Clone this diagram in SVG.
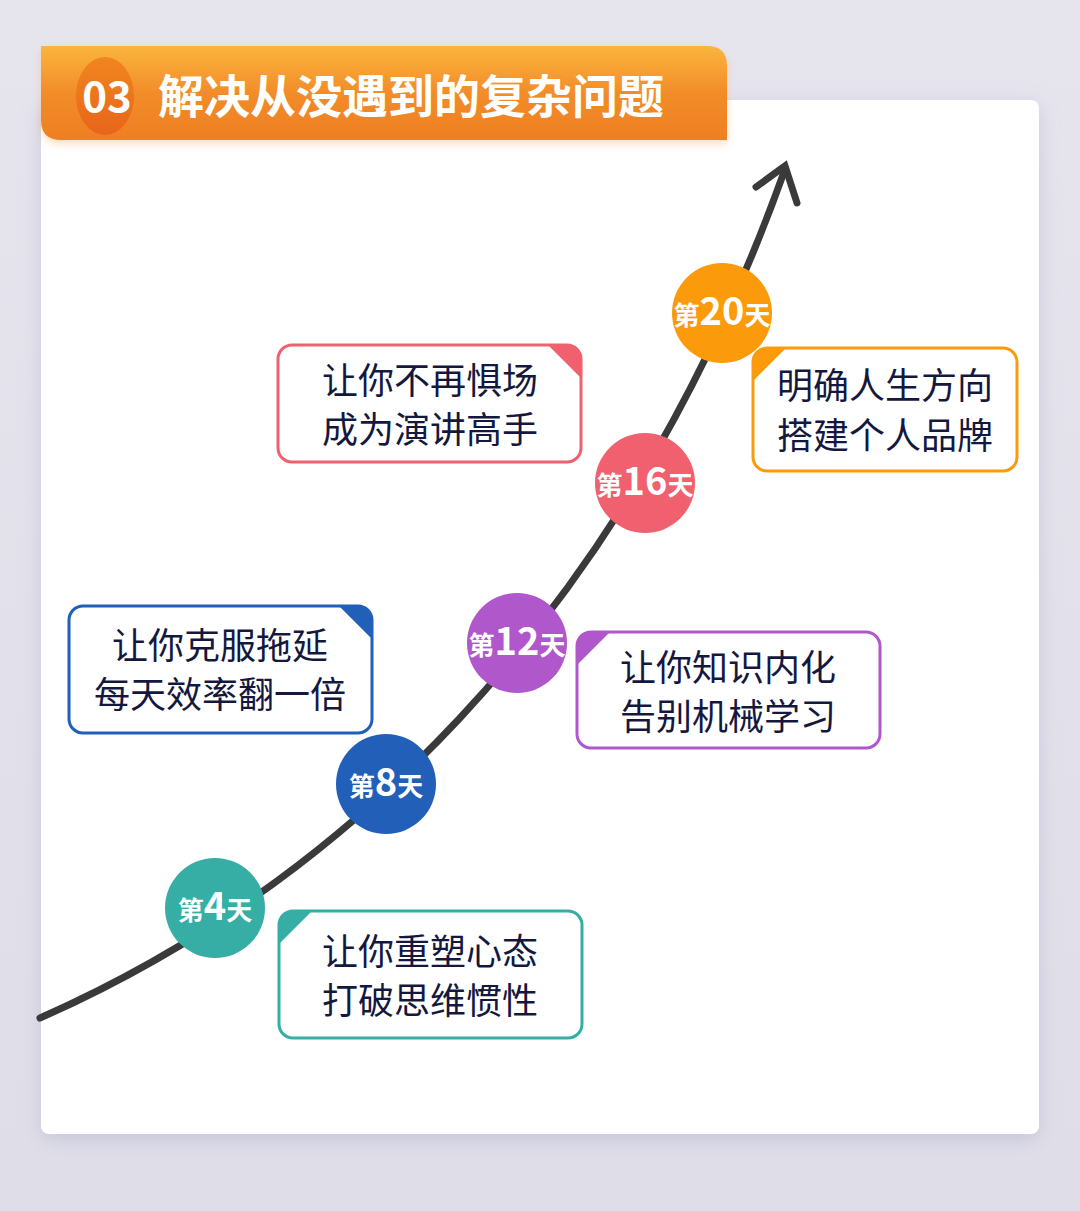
<svg xmlns="http://www.w3.org/2000/svg" width="1080" height="1211" viewBox="0 0 1080 1211">
<defs>
<linearGradient id="bg" x1="0" y1="0" x2="0" y2="1"><stop offset="0" stop-color="#e6e5ee"/><stop offset="1" stop-color="#dfdee8"/></linearGradient>
<linearGradient id="ban" x1="0" y1="0" x2="0" y2="1"><stop offset="0" stop-color="#fbb53d"/><stop offset="0.5" stop-color="#f28c29"/><stop offset="1" stop-color="#ee7f22"/></linearGradient>
<linearGradient id="num" x1="0" y1="0" x2="0" y2="1"><stop offset="0" stop-color="#f0861f"/><stop offset="1" stop-color="#e8651a"/></linearGradient>
<filter id="sh" x="-10%" y="-10%" width="120%" height="120%"><feDropShadow dx="0" dy="6" stdDeviation="10" flood-color="#9a98b8" flood-opacity="0.35"/></filter>
<filter id="sh2" x="-10%" y="-30%" width="120%" height="160%"><feDropShadow dx="0" dy="4" stdDeviation="4" flood-color="#f3a050" flood-opacity="0.35"/></filter>
</defs>
<style>
.t{font-family:"Noto Sans CJK SC","Noto Sans",sans-serif;font-size:36px;fill:#14183e}
.d{font-family:"Noto Sans CJK SC","Noto Sans",sans-serif;fill:#fff;font-weight:700}
.box{fill:#fff;stroke-width:3}
</style>
<rect width="1080" height="1211" fill="url(#bg)"/>
<rect x="41" y="100" width="998" height="1034" rx="8" fill="#fff" filter="url(#sh)"/>
<g id="banner">
<path d="M41,46 H707 Q727,46 727,66 V140 H61 Q41,140 41,120 Z" fill="url(#ban)" filter="url(#sh2)"/>
<ellipse cx="105" cy="96" rx="29" ry="39" fill="url(#num)"/>
<text x="107" y="112" text-anchor="middle" class="d" font-size="42" font-family="Roboto,sans-serif">03</text>
<text x="158" y="113" class="d" font-size="46">解决从没遇到的复杂问题</text>
</g>
<g id="connectors" fill="none" stroke="#3a3a3a" stroke-width="7" stroke-linecap="round">
<path d="M40,1018 C330,890 620,630 784,172"/>
<polyline points="756,187 785,166 797,203" stroke-linejoin="miter"/>
</g>
<g id="n4">
<circle cx="215" cy="908" r="50" fill="#36aea6"/>
<text x="215" y="920" text-anchor="middle" class="d" font-size="26">第<tspan font-size="38">4</tspan>天</text>
</g>
<g id="b4">
<rect x="279" y="911" width="303" height="127" rx="14" class="box" stroke="#36aea6"/>
<path d="M279,944 V925 Q279,911 293,911 H312 Z" fill="#36aea6"/>
<text x="430" y="965" text-anchor="middle" class="t">让你重塑心态</text>
<text x="430" y="1014" text-anchor="middle" class="t">打破思维惯性</text>
</g>
<g id="n8">
<circle cx="386" cy="784" r="50" fill="#215fb8"/>
<text x="386" y="796" text-anchor="middle" class="d" font-size="26">第<tspan font-size="38">8</tspan>天</text>
</g>
<g id="b8">
<rect x="69" y="606" width="303" height="127" rx="14" class="box" stroke="#215fb8"/>
<path d="M339,606 H358 Q372,606 372,620 V639 Z" fill="#215fb8"/>
<text x="220" y="659" text-anchor="middle" class="t">让你克服拖延</text>
<text x="220" y="708" text-anchor="middle" class="t">每天效率翻一倍</text>
</g>
<g id="n12">
<circle cx="517" cy="643" r="50" fill="#b057cc"/>
<text x="517" y="655" text-anchor="middle" class="d" font-size="26">第<tspan font-size="38">12</tspan>天</text>
</g>
<g id="b12">
<rect x="577" y="632" width="303" height="116" rx="14" class="box" stroke="#b057cc"/>
<path d="M577,665 V646 Q577,632 591,632 H610 Z" fill="#b057cc"/>
<text x="728" y="681" text-anchor="middle" class="t">让你知识内化</text>
<text x="728" y="730" text-anchor="middle" class="t">告别机械学习</text>
</g>
<g id="n16">
<circle cx="645" cy="483" r="50" fill="#f0606e"/>
<text x="645" y="495" text-anchor="middle" class="d" font-size="26">第<tspan font-size="38">16</tspan>天</text>
</g>
<g id="b16">
<rect x="278" y="345" width="303" height="117" rx="14" class="box" stroke="#f0606e"/>
<path d="M548,345 H567 Q581,345 581,359 V378 Z" fill="#f0606e"/>
<text x="430" y="394" text-anchor="middle" class="t">让你不再惧场</text>
<text x="430" y="443" text-anchor="middle" class="t">成为演讲高手</text>
</g>
<g id="n20">
<circle cx="722" cy="313" r="50" fill="#fb9b0b"/>
<text x="722" y="325" text-anchor="middle" class="d" font-size="26">第<tspan font-size="38">20</tspan>天</text>
</g>
<g id="b20">
<rect x="753" y="348" width="264" height="123" rx="14" class="box" stroke="#fb9b0b"/>
<path d="M753,381 V362 Q753,348 767,348 H786 Z" fill="#fb9b0b"/>
<text x="885" y="399" text-anchor="middle" class="t">明确人生方向</text>
<text x="885" y="449" text-anchor="middle" class="t">搭建个人品牌</text>
</g>
</svg>
